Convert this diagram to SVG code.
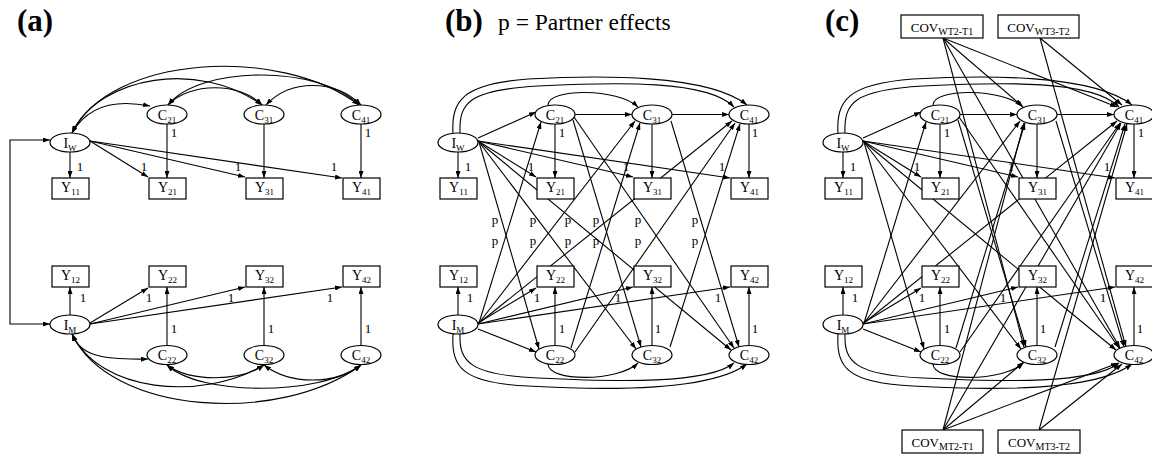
<svg xmlns="http://www.w3.org/2000/svg" width="1152" height="455" viewBox="0 0 1152 455">
<defs>
<style>
text{font-family:"Liberation Serif","Times New Roman",serif;fill:#000}
.nd ellipse,.nd rect{fill:#fff;stroke:#000;stroke-width:1.2}
.t{font-size:14px;text-anchor:middle}
.s{font-size:9px}
.one{font-size:13px;text-anchor:middle}
.cn path{fill:none;stroke:#000;stroke-width:1.1}
.e{marker-end:url(#ah)}
.d{marker-start:url(#ah);marker-end:url(#ah)}
.pn{font-size:31px;font-weight:bold}
.cv{font-size:13px;text-anchor:middle}
.cs{font-size:10px}
</style>
<marker id="ah" viewBox="0 0 7 5" refX="7" refY="2.5" markerWidth="7" markerHeight="5" markerUnits="userSpaceOnUse" orient="auto-start-reverse"><path d="M0,0 L7,2.5 L0,5 z" fill="#000"/></marker>
</defs>
<rect width="1152" height="455" fill="#fff"/>

<!-- PANEL A -->
<g id="panel-a">
<text class="pn" x="17" y="31">(a)</text>
<g id="a-connectors" class="cn">
<path class="d" d="M50,140H10V324H50"/>
<path class="d" d="M72,133C85,110 110,98 150,106"/>
<path class="d" d="M72,133C100,75 200,60 262,105"/>
<path class="d" d="M72,133C110,55 280,45 359,105"/>
<path class="d" d="M168,105C190,82 240,82 262,105"/>
<path class="d" d="M168,105C200,65 320,65 359,105"/>
<path class="d" d="M266,105C290,79 335,79 361,105"/>
<path class="d" d="M72,334C80,355 100,360 148,359"/>
<path class="d" d="M72,334C100,392 200,402 264,365"/>
<path class="d" d="M72,334C110,415 280,425 361,365"/>
<path class="d" d="M167,365C190,382 240,382 264,365"/>
<path class="d" d="M167,365C200,396 320,396 361,365"/>
<path class="d" d="M264,365C290,385 335,385 361,365"/>
<path class="e" d="M70,152V178"/>
<path class="e" d="M90,141L148,177"/>
<path class="e" d="M90,141L245,177"/>
<path class="e" d="M90,141L342,178"/>
<path class="e" d="M167,124V178"/>
<path class="e" d="M264,124V178"/>
<path class="e" d="M361,124V178"/>
<path class="e" d="M70,315V287"/>
<path class="e" d="M90,323L148,288"/>
<path class="e" d="M90,324L245,287"/>
<path class="e" d="M90,324L342,287"/>
<path class="e" d="M167,345.5V287"/>
<path class="e" d="M264,345.5V287"/>
<path class="e" d="M361,345.5V287"/>
</g>
<g id="a-weights">
<text class="one" x="80" y="171">1</text>
<text class="one" x="144" y="171">1</text>
<text class="one" x="238" y="171">1</text>
<text class="one" x="334" y="171">1</text>
<text class="one" x="174" y="137">1</text>
<text class="one" x="368" y="137">1</text>
<text class="one" x="83" y="302">1</text>
<text class="one" x="149" y="302">1</text>
<text class="one" x="231" y="302">1</text>
<text class="one" x="330" y="302">1</text>
<text class="one" x="174" y="333">1</text>
<text class="one" x="271" y="333">1</text>
<text class="one" x="368" y="333">1</text>
</g>
<g id="a-IW" class="nd"><ellipse cx="70" cy="142.5" rx="20" ry="9.5"/><text class="t" x="70" y="147.5">I<tspan class="s" dy="3">W</tspan></text></g>
<g id="a-IM" class="nd"><ellipse cx="70" cy="324.5" rx="20" ry="9.5"/><text class="t" x="70" y="329.5">I<tspan class="s" dy="3">M</tspan></text></g>
<g id="a-C21" class="nd"><ellipse cx="167" cy="114.5" rx="20" ry="9.5"/><text class="t" x="167" y="119.5">C<tspan class="s" dy="3">21</tspan></text></g>
<g id="a-C31" class="nd"><ellipse cx="264" cy="114.5" rx="20" ry="9.5"/><text class="t" x="264" y="119.5">C<tspan class="s" dy="3">31</tspan></text></g>
<g id="a-C41" class="nd"><ellipse cx="361" cy="114.5" rx="20" ry="9.5"/><text class="t" x="361" y="119.5">C<tspan class="s" dy="3">41</tspan></text></g>
<g id="a-C22" class="nd"><ellipse cx="167" cy="355" rx="20" ry="9.5"/><text class="t" x="167" y="360">C<tspan class="s" dy="3">22</tspan></text></g>
<g id="a-C32" class="nd"><ellipse cx="264" cy="355" rx="20" ry="9.5"/><text class="t" x="264" y="360">C<tspan class="s" dy="3">32</tspan></text></g>
<g id="a-C42" class="nd"><ellipse cx="361" cy="355" rx="20" ry="9.5"/><text class="t" x="361" y="360">C<tspan class="s" dy="3">42</tspan></text></g>
<g id="a-Y11" class="nd"><rect x="52" y="178" width="37" height="21"/><text class="t" x="70.5" y="192">Y<tspan class="s" dy="3">11</tspan></text></g>
<g id="a-Y21" class="nd"><rect x="149" y="178" width="37" height="21"/><text class="t" x="167.5" y="192">Y<tspan class="s" dy="3">21</tspan></text></g>
<g id="a-Y31" class="nd"><rect x="246" y="178" width="37" height="21"/><text class="t" x="264.5" y="192">Y<tspan class="s" dy="3">31</tspan></text></g>
<g id="a-Y41" class="nd"><rect x="343" y="178" width="37" height="21"/><text class="t" x="361.5" y="192">Y<tspan class="s" dy="3">41</tspan></text></g>
<g id="a-Y12" class="nd"><rect x="52" y="266" width="37" height="21"/><text class="t" x="70.5" y="280">Y<tspan class="s" dy="3">12</tspan></text></g>
<g id="a-Y22" class="nd"><rect x="149" y="266" width="37" height="21"/><text class="t" x="167.5" y="280">Y<tspan class="s" dy="3">22</tspan></text></g>
<g id="a-Y32" class="nd"><rect x="246" y="266" width="37" height="21"/><text class="t" x="264.5" y="280">Y<tspan class="s" dy="3">32</tspan></text></g>
<g id="a-Y42" class="nd"><rect x="343" y="266" width="37" height="21"/><text class="t" x="361.5" y="280">Y<tspan class="s" dy="3">42</tspan></text></g>
</g>

<!-- PANEL B -->
<g id="panel-b" transform="translate(388,0)">
<text class="pn" x="57" y="31">(b)</text>
<text x="110" y="30" style="font-size:23.5px">p = Partner effects</text>
<g id="b-connectors" class="cn">
<path class="e" d="M70,152V178"/>
<path class="e" d="M90,141L148,177"/>
<path class="e" d="M90,141L245,177"/>
<path class="e" d="M90,141L342,178"/>
<path class="e" d="M167,124V178"/>
<path class="e" d="M264,124V178"/>
<path class="e" d="M361,124V178"/>
<path class="e" d="M70,315V287"/>
<path class="e" d="M90,323L148,288"/>
<path class="e" d="M90,324L245,287"/>
<path class="e" d="M90,324L342,287"/>
<path class="e" d="M167,345.5V287"/>
<path class="e" d="M264,345.5V287"/>
<path class="e" d="M361,345.5V287"/>
<path class="e" d="M90,138L148,112"/>
<path class="e" d="M187,114.5H244"/>
<path class="e" d="M284,114.5H341"/>
<path class="e" d="M90,329L148,352"/>
<path class="e" d="M65,134C63,100 75,84 140,79C210,75 320,74 359,105"/>
<path class="e" d="M72,133C71,103 80,90 150,86C230,82 320,80 346,107"/>
<path class="e" d="M160,105C160,88 230,88 250,107"/>
<path class="e" d="M65,334C63,368 75,383 140,386C210,390 320,393 359,364"/>
<path class="e" d="M72,334C71,362 82,375 150,378C230,382 320,384 346,363"/>
<path class="e" d="M160,364C160,382 230,382 250,363"/>
<path class="e" d="M91,142L151,349"/>
<path class="e" d="M91,323L153,122"/>
<path class="e" d="M91,142L248,349"/>
<path class="e" d="M91,323L247,121"/>
<path class="e" d="M91,142L343,350"/>
<path class="e" d="M91,323L344,121"/>
<path class="e" d="M185,120L253,347"/>
<path class="e" d="M183,348L252,123"/>
<path class="e" d="M186,117L346,348"/>
<path class="e" d="M187,352L347,123"/>
<path class="e" d="M283,121L351,347"/>
<path class="e" d="M282,347L352,124"/>
</g>
<g id="b-weights">
<text class="one" x="80" y="171">1</text>
<text class="one" x="143" y="171">1</text>
<text class="one" x="238" y="171">1</text>
<text class="one" x="334" y="171">1</text>
<text class="one" x="174" y="137">1</text>
<text class="one" x="367" y="137">1</text>
<text class="one" x="82" y="302">1</text>
<text class="one" x="149" y="302">1</text>
<text class="one" x="230" y="302">1</text>
<text class="one" x="330" y="302">1</text>
<text class="one" x="174" y="333">1</text>
<text class="one" x="270" y="333">1</text>
<text class="one" x="367" y="333">1</text>
<text class="one" x="107" y="224">p</text>
<text class="one" x="145" y="224">p</text>
<text class="one" x="180" y="224">p</text>
<text class="one" x="208" y="224">p</text>
<text class="one" x="250" y="224">p</text>
<text class="one" x="307" y="224">p</text>
<text class="one" x="107" y="245">p</text>
<text class="one" x="145" y="245">p</text>
<text class="one" x="180" y="245">p</text>
<text class="one" x="208" y="245">p</text>
<text class="one" x="250" y="245">p</text>
<text class="one" x="307" y="245">p</text>
</g>
<g id="b-IW" class="nd"><ellipse cx="70" cy="142.5" rx="20" ry="9.5"/><text class="t" x="70" y="147.5">I<tspan class="s" dy="3">W</tspan></text></g>
<g id="b-IM" class="nd"><ellipse cx="70" cy="324.5" rx="20" ry="9.5"/><text class="t" x="70" y="329.5">I<tspan class="s" dy="3">M</tspan></text></g>
<g id="b-C21" class="nd"><ellipse cx="167" cy="114.5" rx="20" ry="9.5"/><text class="t" x="167" y="119.5">C<tspan class="s" dy="3">21</tspan></text></g>
<g id="b-C31" class="nd"><ellipse cx="264" cy="114.5" rx="20" ry="9.5"/><text class="t" x="264" y="119.5">C<tspan class="s" dy="3">31</tspan></text></g>
<g id="b-C41" class="nd"><ellipse cx="361" cy="114.5" rx="20" ry="9.5"/><text class="t" x="361" y="119.5">C<tspan class="s" dy="3">41</tspan></text></g>
<g id="b-C22" class="nd"><ellipse cx="167" cy="355" rx="20" ry="9.5"/><text class="t" x="167" y="360">C<tspan class="s" dy="3">22</tspan></text></g>
<g id="b-C32" class="nd"><ellipse cx="264" cy="355" rx="20" ry="9.5"/><text class="t" x="264" y="360">C<tspan class="s" dy="3">32</tspan></text></g>
<g id="b-C42" class="nd"><ellipse cx="361" cy="355" rx="20" ry="9.5"/><text class="t" x="361" y="360">C<tspan class="s" dy="3">42</tspan></text></g>
<g id="b-Y11" class="nd"><rect x="52" y="178" width="37" height="21"/><text class="t" x="70.5" y="192">Y<tspan class="s" dy="3">11</tspan></text></g>
<g id="b-Y21" class="nd"><rect x="149" y="178" width="37" height="21"/><text class="t" x="167.5" y="192">Y<tspan class="s" dy="3">21</tspan></text></g>
<g id="b-Y31" class="nd"><rect x="246" y="178" width="37" height="21"/><text class="t" x="264.5" y="192">Y<tspan class="s" dy="3">31</tspan></text></g>
<g id="b-Y41" class="nd"><rect x="343" y="178" width="37" height="21"/><text class="t" x="361.5" y="192">Y<tspan class="s" dy="3">41</tspan></text></g>
<g id="b-Y12" class="nd"><rect x="52" y="266" width="37" height="21"/><text class="t" x="70.5" y="280">Y<tspan class="s" dy="3">12</tspan></text></g>
<g id="b-Y22" class="nd"><rect x="149" y="266" width="37" height="21"/><text class="t" x="167.5" y="280">Y<tspan class="s" dy="3">22</tspan></text></g>
<g id="b-Y32" class="nd"><rect x="246" y="266" width="37" height="21"/><text class="t" x="264.5" y="280">Y<tspan class="s" dy="3">32</tspan></text></g>
<g id="b-Y42" class="nd"><rect x="343" y="266" width="37" height="21"/><text class="t" x="361.5" y="280">Y<tspan class="s" dy="3">42</tspan></text></g>
</g>

<!-- PANEL C -->
<g id="panel-c" transform="translate(773,0)">
<text class="pn" x="52" y="31">(c)</text>
<g id="c-connectors" class="cn">
<path class="e" d="M70,152V178"/>
<path class="e" d="M90,141L148,177"/>
<path class="e" d="M90,141L245,177"/>
<path class="e" d="M90,141L342,178"/>
<path class="e" d="M167,124V178"/>
<path class="e" d="M264,124V178"/>
<path class="e" d="M361,124V178"/>
<path class="e" d="M70,315V287"/>
<path class="e" d="M90,323L148,288"/>
<path class="e" d="M90,324L245,287"/>
<path class="e" d="M90,324L342,287"/>
<path class="e" d="M167,345.5V287"/>
<path class="e" d="M264,345.5V287"/>
<path class="e" d="M361,345.5V287"/>
<path class="e" d="M90,138L148,112"/>
<path class="e" d="M187,114.5H244"/>
<path class="e" d="M284,114.5H341"/>
<path class="e" d="M90,329L148,352"/>
<path class="e" d="M65,134C63,100 75,84 140,79C210,75 320,74 359,105"/>
<path class="e" d="M72,133C71,103 80,90 150,86C230,82 320,80 346,107"/>
<path class="e" d="M160,105C160,88 230,88 250,107"/>
<path class="e" d="M65,334C63,368 75,383 140,386C210,390 320,393 359,364"/>
<path class="e" d="M72,334C71,362 82,375 150,378C230,382 320,384 346,363"/>
<path class="e" d="M160,364C160,382 230,382 250,363"/>
<path class="e" d="M91,142L151,349"/>
<path class="e" d="M91,323L153,122"/>
<path class="e" d="M91,142L248,349"/>
<path class="e" d="M91,323L247,121"/>
<path class="e" d="M91,142L343,350"/>
<path class="e" d="M91,323L344,121"/>
<path class="e" d="M185,120L253,347"/>
<path class="e" d="M183,348L252,123"/>
<path class="e" d="M186,117L346,348"/>
<path class="e" d="M187,352L347,123"/>
<path class="e" d="M283,121L351,347"/>
<path class="e" d="M282,347L352,124"/>
<path class="e" d="M170,38L249,106"/>
<path class="e" d="M170,38L344,107"/>
<path class="e" d="M170,38L251,347"/>
<path class="e" d="M170,38L347,348"/>
<path class="e" d="M267,38L349,105"/>
<path class="e" d="M267,38L353,347"/>
<path class="e" d="M170,430L251,362"/>
<path class="e" d="M170,430L345,363"/>
<path class="e" d="M170,430L251,123"/>
<path class="e" d="M170,430L348,123"/>
<path class="e" d="M266,430L349,364"/>
<path class="e" d="M266,430L354,124"/>
</g>
<g id="c-weights">
<text class="one" x="80" y="171">1</text>
<text class="one" x="144" y="171">1</text>
<text class="one" x="238" y="171">1</text>
<text class="one" x="334" y="171">1</text>
<text class="one" x="174" y="137">1</text>
<text class="one" x="368" y="137">1</text>
<text class="one" x="82" y="302">1</text>
<text class="one" x="149" y="302">1</text>
<text class="one" x="230" y="302">1</text>
<text class="one" x="330" y="302">1</text>
<text class="one" x="174" y="333">1</text>
<text class="one" x="270" y="333">1</text>
<text class="one" x="367" y="333">1</text>
</g>
<g id="c-COVWT21" class="nd"><rect x="128" y="15" width="82" height="23"/><text class="cv" x="169" y="31.5">COV<tspan class="cs" dy="3">WT2-T1</tspan></text></g>
<g id="c-COVWT32" class="nd"><rect x="225" y="15" width="81" height="23"/><text class="cv" x="265.5" y="31.5">COV<tspan class="cs" dy="3">WT3-T2</tspan></text></g>
<g id="c-COVMT21" class="nd"><rect x="129" y="430" width="81" height="23"/><text class="cv" x="169.5" y="446.5">COV<tspan class="cs" dy="3">MT2-T1</tspan></text></g>
<g id="c-COVMT32" class="nd"><rect x="225" y="430" width="82" height="23"/><text class="cv" x="266" y="446.5">COV<tspan class="cs" dy="3">MT3-T2</tspan></text></g>
<g id="c-IW" class="nd"><ellipse cx="70" cy="142.5" rx="20" ry="9.5"/><text class="t" x="70" y="147.5">I<tspan class="s" dy="3">W</tspan></text></g>
<g id="c-IM" class="nd"><ellipse cx="70" cy="324.5" rx="20" ry="9.5"/><text class="t" x="70" y="329.5">I<tspan class="s" dy="3">M</tspan></text></g>
<g id="c-C21" class="nd"><ellipse cx="167" cy="114.5" rx="20" ry="9.5"/><text class="t" x="167" y="119.5">C<tspan class="s" dy="3">21</tspan></text></g>
<g id="c-C31" class="nd"><ellipse cx="264" cy="114.5" rx="20" ry="9.5"/><text class="t" x="264" y="119.5">C<tspan class="s" dy="3">31</tspan></text></g>
<g id="c-C41" class="nd"><ellipse cx="361" cy="114.5" rx="20" ry="9.5"/><text class="t" x="361" y="119.5">C<tspan class="s" dy="3">41</tspan></text></g>
<g id="c-C22" class="nd"><ellipse cx="167" cy="355" rx="20" ry="9.5"/><text class="t" x="167" y="360">C<tspan class="s" dy="3">22</tspan></text></g>
<g id="c-C32" class="nd"><ellipse cx="264" cy="355" rx="20" ry="9.5"/><text class="t" x="264" y="360">C<tspan class="s" dy="3">32</tspan></text></g>
<g id="c-C42" class="nd"><ellipse cx="361" cy="355" rx="20" ry="9.5"/><text class="t" x="361" y="360">C<tspan class="s" dy="3">42</tspan></text></g>
<g id="c-Y11" class="nd"><rect x="52" y="178" width="37" height="21"/><text class="t" x="70.5" y="192">Y<tspan class="s" dy="3">11</tspan></text></g>
<g id="c-Y21" class="nd"><rect x="149" y="178" width="37" height="21"/><text class="t" x="167.5" y="192">Y<tspan class="s" dy="3">21</tspan></text></g>
<g id="c-Y31" class="nd"><rect x="246" y="178" width="37" height="21"/><text class="t" x="264.5" y="192">Y<tspan class="s" dy="3">31</tspan></text></g>
<g id="c-Y41" class="nd"><rect x="343" y="178" width="37" height="21"/><text class="t" x="361.5" y="192">Y<tspan class="s" dy="3">41</tspan></text></g>
<g id="c-Y12" class="nd"><rect x="52" y="266" width="37" height="21"/><text class="t" x="70.5" y="280">Y<tspan class="s" dy="3">12</tspan></text></g>
<g id="c-Y22" class="nd"><rect x="149" y="266" width="37" height="21"/><text class="t" x="167.5" y="280">Y<tspan class="s" dy="3">22</tspan></text></g>
<g id="c-Y32" class="nd"><rect x="246" y="266" width="37" height="21"/><text class="t" x="264.5" y="280">Y<tspan class="s" dy="3">32</tspan></text></g>
<g id="c-Y42" class="nd"><rect x="343" y="266" width="37" height="21"/><text class="t" x="361.5" y="280">Y<tspan class="s" dy="3">42</tspan></text></g>
</g>
</svg>
